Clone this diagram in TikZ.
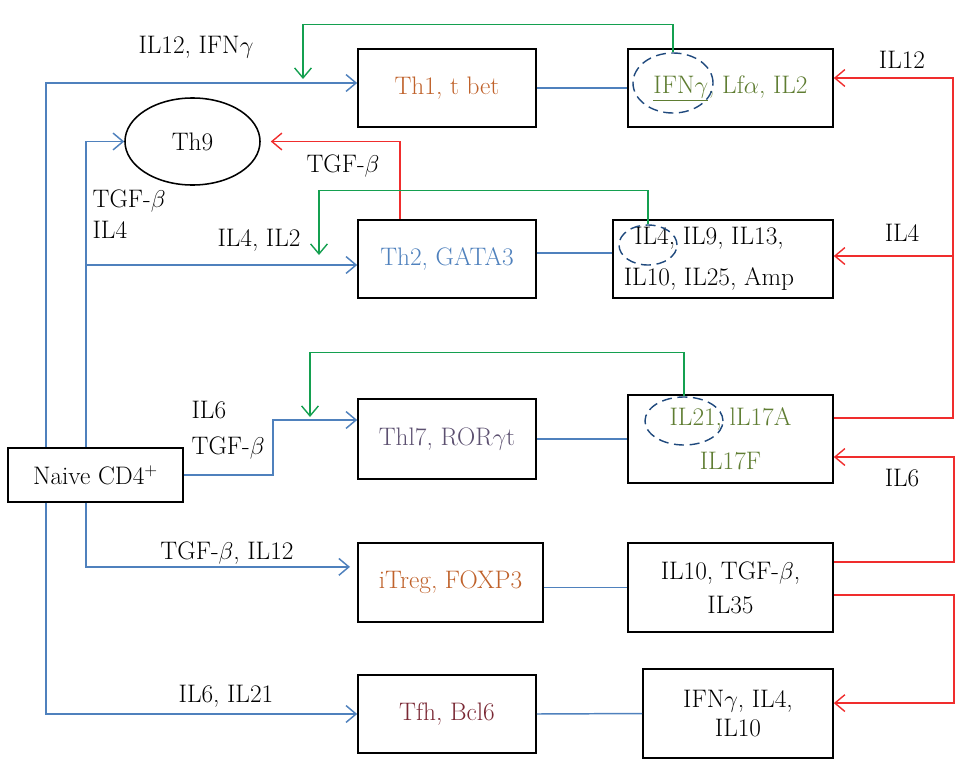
\documentclass[tikz,border=0pt]{standalone}
\usepackage{tikz}
\usepackage{xcolor}
\usetikzlibrary{shapes.geometric, arrows.meta}
\definecolor{flowblue}{RGB}{79, 129, 189}
\definecolor{signalred}{RGB}{240, 45, 45}
\definecolor{loopgreen}{RGB}{20, 160, 80}
\definecolor{ringblue}{RGB}{31, 73, 125}
\definecolor{thorange}{RGB}{192, 98, 43}
\definecolor{thpurple}{RGB}{92, 80, 112}
\definecolor{thred}{RGB}{122, 40, 52}
\definecolor{cytoolive}{RGB}{95, 125, 50}

\begin{document}
\begin{tikzpicture}[
  x=0.025cm, y=-0.025cm,
  font=\fontsize{18}{21.6}\selectfont,
  cellbox/.style={
    draw=black,
    line width=1.1pt,
    fill=white,
    inner sep=0pt,
    align=center,
  },
  ring/.style={
    draw=ringblue,
    ellipse,
    line width=1pt,
    dash pattern=on 0.25cm off 0.14cm,
    inner sep=0pt,
  },
  cue/.style={
    inner sep=1pt,
  },
  tip/.style={
    -{Straight Barb[length=0.25cm, width=0.42cm]},
  },
  flow/.style={
    draw=flowblue,
    line width=1.05pt,
    tip,
  },
  link/.style={
    draw=flowblue,
    line width=1.05pt,
  },
  feedback/.style={
    draw=signalred,
    line width=1pt,
    tip,
  },
  loop/.style={
    draw=loopgreen,
    line width=1pt,
    tip,
  }
]
  \useasboundingbox (0,0) rectangle (979,763);

  % Naive
  \node[cellbox, minimum width=4.375cm, minimum height=1.35cm] (naive) at (95.5,475) {Naive CD4$^{+}$};

  % Th1
  \node[cellbox, minimum width=4.45cm, minimum height=1.95cm] (th1) at (447,88) {\color{thorange}Th1, t bet};
  \node[cellbox, minimum width=5.125cm, minimum height=1.95cm] (th1-out) at (730.5,88)
    {\color{cytoolive}\underline{IFN$\gamma$}, Lf$\alpha$, IL2};
  \node[ring, minimum width=2cm, minimum height=1.5cm] (ifng) at (673,83) {};

  % Th9
  \node[draw=black, ellipse, line width=1.1pt, inner sep=0pt, minimum width=3.375cm, minimum height=2.175cm] (th9) at (192.5,141.5) {Th9};

  % Th2
  \node[cellbox, minimum width=4.45cm, minimum height=1.95cm] (th2) at (447,259) {\color{flowblue}Th2, GATA3};
  \node[cellbox, minimum width=5.5cm, minimum height=1.95cm] (th2-out) at (723,259)
    {\hspace*{-0.7cm}\begin{tabular}{@{}c@{}}IL4, IL9, IL13,\\[7pt]IL10, IL25, Amp\end{tabular}};
  \node[ring, minimum width=1.45cm, minimum height=1cm] (il4) at (648,245) {};

  % Th17
  \node[cellbox, minimum width=4.45cm, minimum height=2cm] (th17) at (447,439) {\color{thpurple}Thl7, ROR$\gamma$t};
  \node[cellbox, minimum width=5.125cm, minimum height=2.2cm] (th17-out) at (730.5,439)
    {\color{cytoolive}IL21, lL17A\\[10pt]\color{cytoolive}IL17F};
  \node[ring, minimum width=1.95cm, minimum height=1.2cm] (il21) at (684,421) {};

  % iTreg
  \node[cellbox, minimum width=4.625cm, minimum height=1.975cm] (itreg) at (450.5,582.5) {\color{thorange}iTreg, FOXP3};
  \node[cellbox, minimum width=5.125cm, minimum height=2.225cm] (itreg-out) at (730.5,587.5)
    {IL10, TGF-$\beta$,\\[2.5pt]IL35};

  % Tfh
  \node[cellbox, minimum width=4.75cm, minimum height=2.225cm] (tfh-out) at (738,713.5)
    {IFN$\gamma$, IL4,\\[-1pt]IL10};
  \node[cellbox, minimum width=4.45cm, minimum height=1.95cm] (tfh) at (447,714) {\color{thred}Tfh, Bcl6};

  % labels
  \node[cue] (l-th1) at (196,47) {IL12, IFN$\gamma$};
  \node[cue] (l-th9r) at (343,166) {TGF-$\beta$};
  \node[cue, anchor=west, align=left] (l-th9) at (91,214) {TGF-$\beta$\\IL4};
  \node[cue] (l-th2) at (259,240) {IL4, IL2};
  \node[cue, anchor=west, align=left] (l-th17) at (190,430) {IL6\\[4pt]TGF-$\beta$};
  \node[cue] (l-itreg) at (227,553) {TGF-$\beta$, IL12};
  \node[cue] (l-tfh) at (226,696) {IL6, IL21};
  \node[cue] (l-il12) at (902,60) {IL12};
  \node[cue] (l-il4) at (902,233) {IL4};
  \node[cue] (l-il6) at (902,478) {IL6};

  % blue
  \draw[flow] (naive.north west) ++(39,0) |- ([yshift=0.125cm]th1.west);
  \draw[flow] (naive.north west) ++(79,0) |- (th9.west);
  \draw[flow] (naive.north west) ++(79,0) |- ([yshift=-0.15cm]th2.west);
  \draw[flow] (naive.east) -- ++(89,0) |- ([yshift=0.475cm]th17.west);
  \draw[flow, shorten >=0.18cm] (naive.south west) ++(79,0) |- ([yshift=0.39cm]itreg.west);
  \draw[flow] (naive.south west) ++(39,0) |- (tfh.west);

  \draw[link] (th1.east) -- (th1-out.west);
  \draw[link] ([yshift=0.15cm]th2.east) -- ([yshift=0.15cm]th2-out.west);
  \draw[link] (th17.east) -- (th17-out.west);
  \draw[link] (itreg.east |- itreg-out.west) -- (itreg-out.west);
  \draw[link] (tfh.east) -- (tfh-out.west);

  % red
  \coordinate (rail) at (953,256);
  \draw[feedback, shorten >=0.25cm] (th2.north) ++(-47,0) |- (th9.east);
  \draw[feedback] ([yshift=0.525cm]th17-out.east) -| (rail) |- ([yshift=0.25cm]th1-out.east);
  \draw[feedback] (rail) -- (rail -| th2-out.east);
  \draw[feedback] ([yshift=0.64cm]itreg-out.east) -- ++(120,0) |- ([yshift=-0.45cm]th17-out.east);
  \draw[feedback] ([yshift=-0.19cm]itreg-out.east) -- ++(120,0) |- ([yshift=0.26cm]tfh-out.east);

  % green
  \coordinate (g1) at (303,79);
  \coordinate (g2) at (319,255);
  \coordinate (g3) at (310,417);
  \draw[loop] (ifng.north) -- ++(0,-28) -| (g1);
  \draw[loop] (il4.north) -- ++(0,-34) -| (g2);
  \draw[loop] (il21.north) -- ++(0,-44) -| (g3);

\end{tikzpicture}
\end{document}
